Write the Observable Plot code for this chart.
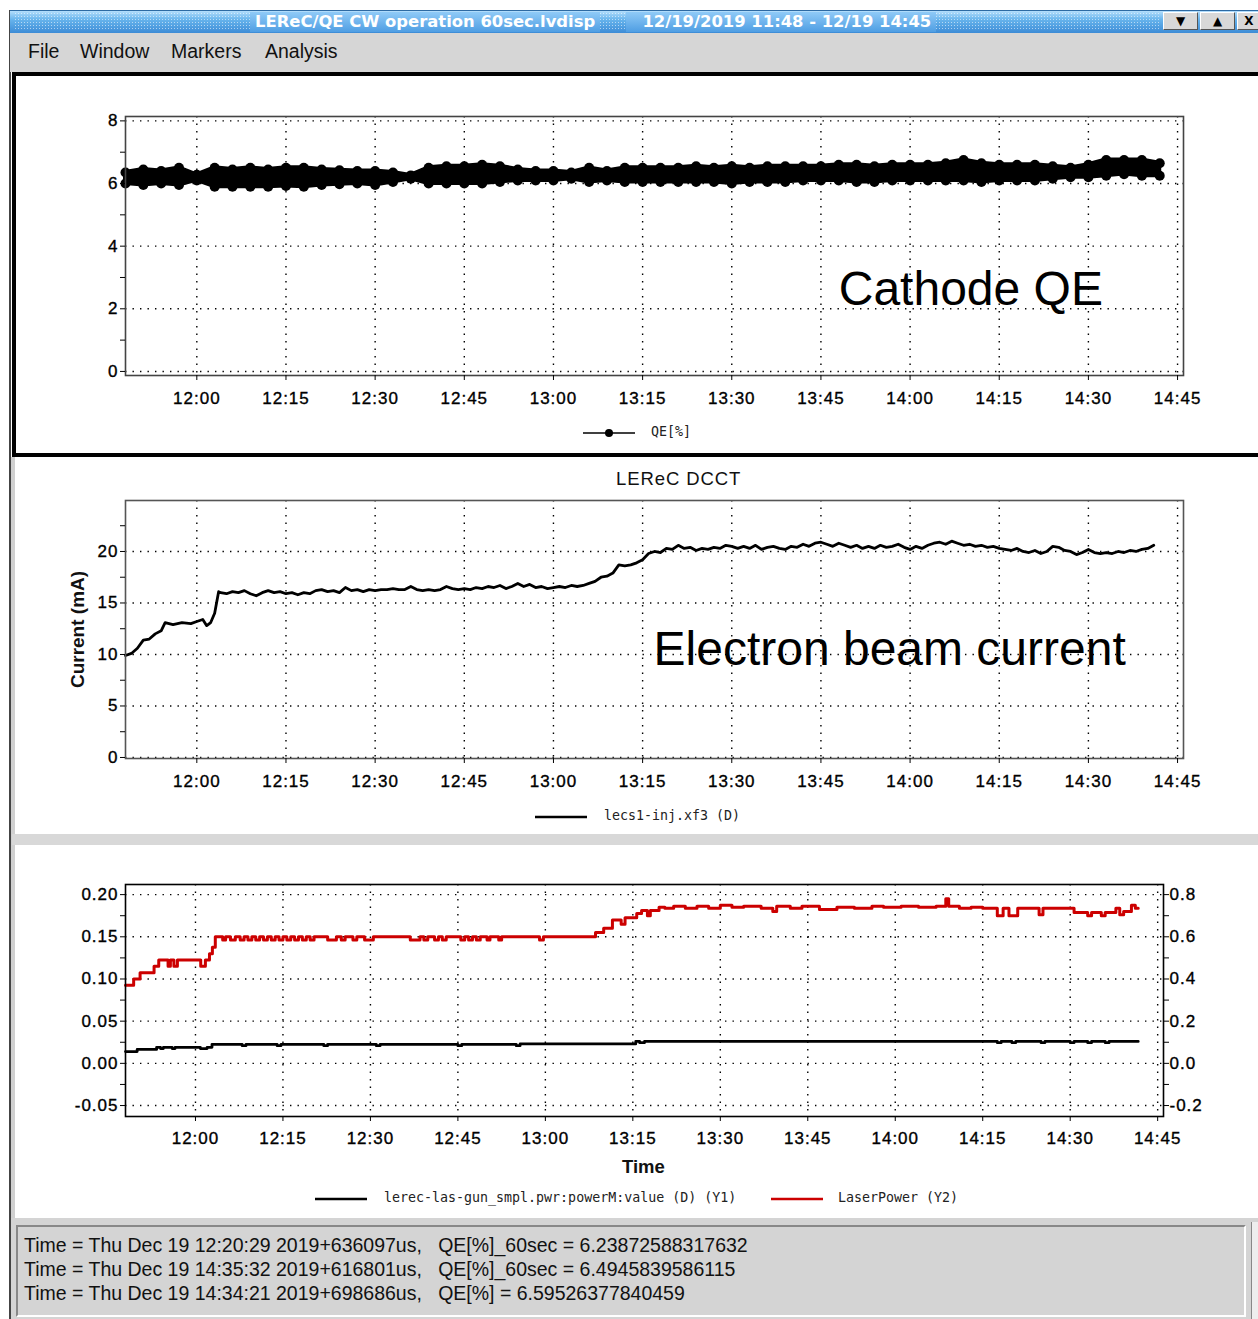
<!DOCTYPE html>
<html><head><meta charset="utf-8">
<script src="https://cdn.jsdelivr.net/npm/d3@7"></script>
<script src="https://cdn.jsdelivr.net/npm/@observablehq/plot@0.6"></script>
<style>
html,body{margin:0;padding:0;}
body{width:1258px;height:1319px;position:relative;overflow:hidden;background:#fff;font-family:"Liberation Sans",Arial,sans-serif;}
.a{position:absolute;}
#titlebar{left:10px;top:10px;width:1248px;height:23px;background:linear-gradient(#b4defc,#66b3ec 40%,#3d8cd6);border-top:1px solid #2d6aa3;box-sizing:border-box;}
.dots{top:12px;height:17px;background-image:radial-gradient(rgba(255,255,255,0.55) 0.7px,transparent 1px);background-size:3px 3px;}
.tt{top:12px;height:20px;line-height:20px;color:#fff;font:bold 16.4px "DejaVu Sans",sans-serif;white-space:pre;background:linear-gradient(#8fcaf7,#4f9ee3);padding:0 5px;}
.btn{top:12px;height:18px;background:#d8d8d8;border:1px solid #fff;border-right-color:#555;border-bottom-color:#555;box-sizing:border-box;font:bold 12px "DejaVu Sans";text-align:center;line-height:16px;color:#000;}
#menubar{left:10px;top:33px;width:1248px;height:39px;background:#d6d6d6;}
.menu{top:40px;font-size:19.5px;color:#111;}
#p1{left:12px;top:72px;width:1260px;height:385px;border:4px solid #000;box-sizing:border-box;background:#fff;}
#sep{left:12px;top:834px;width:1246px;height:11px;background:#d8d8d8;}
#leftline{left:9px;top:10px;width:2px;height:1309px;background:#444;}
#leftgrey{left:11px;top:457px;width:4px;height:762px;background:#d0d0d0;}
#status{left:11px;top:1218px;width:1247px;height:101px;background:#d4d4d4;}
#sbox{left:16px;top:1225px;width:1230px;height:92px;border:2px solid;border-color:#888 #fff #fff #888;box-sizing:border-box;}
#sbar{left:1251px;top:1222px;width:7px;height:97px;background:#eee;border-left:1px solid #888;}
.stxt{left:24px;font-size:19.5px;color:#111;white-space:pre;}
.plt{position:absolute;left:0;}
.plt g[aria-label$="tick label"] text{letter-spacing:1px;stroke:#000;stroke-width:0.35px;}
.leg{font:13.3px "DejaVu Sans Mono",monospace;color:#222;white-space:pre;}
.lab{font-size:18.5px;color:#111;white-space:pre;}
</style></head><body>

<div id="leftline" class="a"></div>
<div id="titlebar" class="a"></div>
<div class="a dots" style="left:14px;width:1146px;"></div>
<div class="a tt" style="left:250px;">LEReC/QE CW operation 60sec.lvdisp</div>
<div class="a tt" style="left:626px;">  12/19/2019 11:48 - 12/19 14:45</div>
<div class="a btn" style="left:1163px;width:35px;">▼</div>
<div class="a btn" style="left:1200px;width:35px;">▲</div>
<div class="a btn" style="left:1237px;width:24px;">X</div>
<div id="menubar" class="a"></div>
<div class="a menu" style="left:28px;">File</div>
<div class="a menu" style="left:80px;">Window</div>
<div class="a menu" style="left:171px;">Markers</div>
<div class="a menu" style="left:265px;">Analysis</div>
<div id="p1" class="a"></div>
<div id="leftgrey" class="a"></div>
<div id="sep" class="a"></div>
<div id="status" class="a"></div>
<div id="sbox" class="a"></div>
<div id="sbar" class="a"></div>

<div id="c1" class="plt" style="top:100px"></div>
<div id="c2" class="plt" style="top:488px"></div>
<div id="c3" class="plt" style="top:868px"></div>

<!-- legends / titles -->
<svg class="a" style="left:583px;top:427px" width="54" height="12"><line x1="0" y1="6" x2="52" y2="6" stroke="#000" stroke-width="1.5"/><circle cx="26" cy="6" r="4" fill="#000"/></svg>
<div class="a leg" style="left:651px;top:424px;">QE[%]</div>

<div class="a lab" style="left:616px;top:468px;letter-spacing:0.9px;">LEReC DCCT</div>
<svg class="a" style="left:535px;top:811px" width="54" height="12"><line x1="0" y1="6" x2="52" y2="6" stroke="#000" stroke-width="2.5"/></svg>
<div class="a leg" style="left:604px;top:808px;">lecs1-inj.xf3 (D)</div>

<div class="a lab" style="left:622px;top:1156px;font-weight:bold;">Time</div>
<svg class="a" style="left:315px;top:1193px" width="54" height="12"><line x1="0" y1="6" x2="52" y2="6" stroke="#000" stroke-width="2.5"/></svg>
<div class="a leg" style="left:384px;top:1190px;">lerec-las-gun_smpl.pwr:powerM:value (D) (Y1)</div>
<svg class="a" style="left:771px;top:1193px" width="54" height="12"><line x1="0" y1="6" x2="52" y2="6" stroke="#cc0000" stroke-width="2.5"/></svg>
<div class="a leg" style="left:838px;top:1190px;">LaserPower (Y2)</div>

<div class="a stxt" style="top:1234px;">Time = Thu Dec 19 12:20:29 2019+636097us,   QE[%]_60sec = 6.23872588317632</div>
<div class="a stxt" style="top:1258px;">Time = Thu Dec 19 14:35:32 2019+616801us,   QE[%]_60sec = 6.4945839586115</div>
<div class="a stxt" style="top:1282px;">Time = Thu Dec 19 14:34:21 2019+698686us,   QE[%] = 6.59526377840459</div>

<script>
// ---------- data ----------
const xDomainLabels = ["11:48:00", "14:46:00"];
const xTickLabels = ["12:00","12:15","12:30","12:45","13:00","13:15","13:30","13:45","14:00","14:15","14:30","14:45"];

// Chart 1: Cathode QE band (lower / upper extent of dense samples), %
const qeTimes = ["11:48","11:51","11:54","11:57","12:00","12:03","12:06","12:09","12:12","12:15","12:18","12:21","12:24","12:27","12:30","12:33","12:36","12:39","12:42","12:45","12:48","12:51","12:54","12:57","13:00","13:03","13:06","13:09","13:12","13:15","13:18","13:21","13:24","13:27","13:30","13:33","13:36","13:39","13:42","13:45","13:48","13:51","13:54","13:57","14:00","14:03","14:06","14:09","14:12","14:15","14:18","14:21","14:24","14:27","14:30","14:33","14:36","14:39","14:42"];
const qeLow  = [6.00,5.95,6.00,5.95,6.10,5.90,5.90,5.90,5.90,5.92,5.90,5.95,5.98,6.00,5.95,6.05,6.15,6.00,6.00,6.00,6.00,6.05,6.10,6.10,6.10,6.15,6.05,6.10,6.05,6.05,6.05,6.05,6.05,6.05,6.00,6.05,6.05,6.05,6.10,6.10,6.10,6.05,6.05,6.10,6.10,6.10,6.10,6.10,6.05,6.10,6.10,6.10,6.15,6.20,6.20,6.25,6.30,6.25,6.25];
const qeHigh = [6.35,6.45,6.40,6.50,6.28,6.50,6.45,6.50,6.45,6.50,6.50,6.45,6.42,6.40,6.40,6.35,6.26,6.50,6.55,6.55,6.60,6.55,6.45,6.40,6.40,6.35,6.50,6.40,6.50,6.50,6.50,6.50,6.55,6.50,6.55,6.50,6.55,6.55,6.55,6.55,6.60,6.60,6.55,6.60,6.60,6.60,6.65,6.75,6.65,6.60,6.60,6.60,6.55,6.50,6.60,6.75,6.75,6.75,6.65];
const qeYTicks = [0,2,4,6,8];
const qeYMinor = [1,3,5,7];
const qeNote = [{label:"Cathode QE", t:"13:48:00", v:2.6}];

// Chart 2: LEReC DCCT current (mA)
const dcctEarlyTimes = ["11:48:00","11:49:00","11:50:00","11:51:00","11:52:00","11:53:00","11:54:00","11:54:40","11:56:00","11:57:30","11:59:00","12:00:00","12:01:00","12:01:40","12:02:20","12:03:00","12:03:40"];
const dcctEarlyValues = [9.9,10.1,10.6,11.4,11.5,12.0,12.3,13.1,12.9,13.1,13.0,13.2,13.4,12.8,13.1,14.0,16.1];
// one reading per minute from 12:04 to 14:41
const dcctMinuteStart = "12:04:00";
const dcctMinuteValues = [16.0,15.9,16.1,16.0,16.2,15.9,15.7,16.0,16.2,16.0,16.1,15.9,16.0,15.8,16.0,15.9,16.2,16.3,16.1,16.2,16.0,16.5,16.2,16.3,16.1,16.3,16.2,16.3,16.3,16.4,16.3,16.3,16.6,16.3,16.2,16.3,16.2,16.3,16.6,16.4,16.3,16.4,16.3,16.5,16.4,16.6,16.5,16.7,16.4,16.6,16.9,16.6,16.8,16.5,16.6,16.4,16.5,16.6,16.5,16.7,16.6,16.7,16.9,17.1,17.5,17.6,17.9,18.7,18.6,18.7,18.9,19.2,19.8,20.0,19.9,20.3,20.2,20.6,20.3,20.4,20.1,20.3,20.2,20.4,20.3,20.6,20.5,20.3,20.5,20.3,20.6,20.2,20.4,20.5,20.3,20.2,20.5,20.4,20.7,20.5,20.8,20.9,20.7,20.5,20.8,20.6,20.4,20.6,20.3,20.5,20.3,20.6,20.4,20.5,20.7,20.4,20.2,20.5,20.3,20.6,20.8,20.9,20.7,21.0,20.8,20.6,20.7,20.5,20.6,20.4,20.5,20.3,20.2,20.1,20.3,20.0,19.9,20.1,19.8,20.0,20.5,20.4,20.1,20.0,19.7,19.9,20.2,19.9,19.8,19.9,19.8,20.0,19.9,20.1,20.0,20.2,20.3,20.6];
const dcctYTicks = [0,5,10,15,20];
const dcctYMinor = [2.5,7.5,12.5,17.5,22.5];
const dcctNote = [{label:"Electron beam current", t:"13:16:50", v:10.5}];

// Chart 3: gun power (Y1) and LaserPower (Y2)
const laserTimes = ["11:48:00","11:49:24","11:50:30","11:52:54","11:53:42","11:55:18","11:55:42","11:56:18","11:56:54","12:00:54","12:01:42","12:02:24","12:02:54","12:03:24","12:04:40","12:05:10","12:06:00","12:06:50","12:07:40","12:08:20","12:09:00","12:09:40","12:10:20","12:11:00","12:11:40","12:12:20","12:13:00","12:13:40","12:14:20","12:15:00","12:15:40","12:16:20","12:17:00","12:17:40","12:18:20","12:19:00","12:19:40","12:20:20","12:22:40","12:24:10","12:25:00","12:25:40","12:27:00","12:27:40","12:29:00","12:30:30","12:36:50","12:38:30","12:39:10","12:39:50","12:41:00","12:41:40","12:42:20","12:43:00","12:45:30","12:46:10","12:46:50","12:47:30","12:48:10","12:48:50","12:50:00","12:50:30","12:52:00","12:52:30","12:59:00","12:59:40","13:08:36","13:10:00","13:11:30","13:13:00","13:13:40","13:15:40","13:16:30","13:17:30","13:18:00","13:19:30","13:20:30","13:22:00","13:24:00","13:26:00","13:28:00","13:30:00","13:32:00","13:34:00","13:37:00","13:39:00","13:39:40","13:42:00","13:44:00","13:47:00","13:50:00","13:53:00","13:56:00","13:58:00","14:01:00","14:04:00","14:07:00","14:08:40","14:09:10","14:11:00","14:13:00","14:15:00","14:17:30","14:18:30","14:19:30","14:21:00","14:24:40","14:25:20","14:28:00","14:30:40","14:33:00","14:33:40","14:35:20","14:36:00","14:37:50","14:38:30","14:39:10","14:40:30","14:41:10","14:41:40"];
const laserValues = [0.37,0.40,0.43,0.46,0.49,0.46,0.49,0.46,0.49,0.46,0.49,0.52,0.55,0.60,0.585,0.60,0.585,0.60,0.585,0.60,0.585,0.60,0.585,0.60,0.585,0.60,0.585,0.60,0.585,0.60,0.585,0.60,0.585,0.60,0.585,0.60,0.585,0.60,0.585,0.60,0.585,0.60,0.585,0.60,0.585,0.60,0.585,0.60,0.585,0.60,0.585,0.60,0.585,0.60,0.585,0.60,0.585,0.60,0.585,0.60,0.585,0.60,0.585,0.60,0.585,0.60,0.62,0.64,0.68,0.66,0.69,0.71,0.725,0.70,0.725,0.74,0.735,0.745,0.735,0.745,0.735,0.75,0.74,0.745,0.735,0.72,0.745,0.735,0.745,0.73,0.74,0.735,0.745,0.74,0.745,0.74,0.745,0.78,0.745,0.735,0.74,0.735,0.70,0.735,0.70,0.735,0.705,0.735,0.735,0.715,0.70,0.715,0.70,0.715,0.735,0.705,0.72,0.75,0.735,0.735];
const gunTimes = ["11:48:00","11:50:00","11:53:20","11:54:00","11:54:30","11:56:00","11:56:30","11:58:00","12:00:50","12:02:00","12:02:50","12:08:00","12:08:40","12:14:00","12:14:40","12:22:00","12:22:40","12:31:00","12:31:40","12:45:00","12:45:40","12:55:00","12:55:40","13:15:30","13:16:10","13:17:00","14:17:30","14:18:10","14:20:00","14:20:40","14:25:00","14:25:40","14:30:00","14:30:40","14:33:00","14:33:40","14:36:00","14:36:40","14:41:40"];
const gunValues = [0.014,0.0165,0.019,0.0175,0.019,0.0175,0.019,0.019,0.0175,0.019,0.0225,0.021,0.0225,0.021,0.0225,0.021,0.0225,0.021,0.0225,0.021,0.0225,0.021,0.023,0.026,0.0245,0.026,0.0245,0.026,0.0245,0.026,0.0245,0.026,0.0245,0.026,0.0245,0.026,0.0245,0.026,0.026];
const y1Ticks = [-0.05,0,0.05,0.10,0.15,0.20];
const y1Minor = [-0.025,0.025,0.075,0.125,0.175];
const y2Ticks = [-0.2,0,0.2,0.4,0.6,0.8];
const y2Minor = [-0.1,0.1,0.3,0.5,0.7];

// ---------- build ----------
const parseT = d3.utcParse("%H:%M:%S");
const T = s => parseT(s.length === 5 ? s + ":00" : s);
const xDomain = xDomainLabels.map(T);
const xTicks = xTickLabels.map(T);
const fmtX = d3.utcFormat("%H:%M");
const font = '"Liberation Sans", Arial, sans-serif';
const dotted = {stroke:"#000", strokeOpacity:1, strokeWidth:1.4, strokeDasharray:"1.4,6.1"};
const baseStyle = {fontFamily:font, fontSize:"17px", color:"#000", background:"none", overflow:"visible"};

// Chart 1
const qe = qeTimes.map((t,i) => ({t:T(t), lo:qeLow[i], hi:qeHigh[i], mid:(qeLow[i]+qeHigh[i])/2}));
document.getElementById("c1").append(Plot.plot({
  width:1258, height:315, marginLeft:125, marginRight:75, marginTop:16, marginBottom:40,
  style:baseStyle,
  x:{type:"utc", domain:xDomain},
  y:{domain:[-0.13, 8.14]},
  marks:[
    Plot.gridX(xTicks, dotted),
    Plot.gridY(qeYTicks, dotted),
    Plot.areaY(qe, {x:"t", y1:"lo", y2:"hi", fill:"#000", stroke:"#000", strokeWidth:4, strokeLinejoin:"round"}),
    Plot.dot(qe, {x:"t", y:"lo", r:5, fill:"#000"}),
    Plot.dot(qe, {x:"t", y:"hi", r:5, fill:"#000"}),
    Plot.frame({stroke:"#444", strokeWidth:1.6}),
    Plot.axisX(xTicks, {label:null, tickSize:5, tickPadding:11, tickFormat:fmtX}),
    Plot.axisY(qeYTicks, {label:null, tickSize:5, tickPadding:2}),
    Plot.axisY(qeYMinor, {label:null, tickSize:5, tickFormat:() => ""}),
    Plot.text(qeNote, {x:d => T(d.t), y:"v", text:"label", textAnchor:"start", fontSize:48, fill:"#000"})
  ]
}));

// Chart 2
const dcctStart = T(dcctMinuteStart);
const dcct = dcctEarlyTimes.map((t,i) => ({t:T(t), v:dcctEarlyValues[i]}))
  .concat(dcctMinuteValues.map((v,i) => ({t:d3.utcMinute.offset(dcctStart, i), v})));
document.getElementById("c2").append(Plot.plot({
  width:1258, height:310, marginLeft:125, marginRight:75, marginTop:12, marginBottom:40,
  style:baseStyle,
  x:{type:"utc", domain:xDomain},
  y:{domain:[-0.1, 24.95]},
  marks:[
    Plot.gridX(xTicks, dotted),
    Plot.gridY(dcctYTicks, dotted),
    Plot.line(dcct, {x:"t", y:"v", stroke:"#000", strokeWidth:2.8, strokeLinejoin:"round"}),
    Plot.frame({stroke:"#555", strokeWidth:1.6}),
    Plot.axisX(xTicks, {label:null, tickSize:5, tickPadding:11, tickFormat:fmtX}),
    Plot.axisY(dcctYTicks, {label:null, tickSize:5, tickPadding:2}),
    Plot.axisY(dcctYMinor, {label:null, tickSize:5, tickFormat:() => ""}),
    Plot.text(["Current (mA)"], {frameAnchor:"left", dx:-48, rotate:-90, textAnchor:"middle", fontSize:19, fontWeight:"bold", fill:"#111"}),
    Plot.text(dcctNote, {x:d => T(d.t), y:"v", text:"label", textAnchor:"start", fontSize:48, fill:"#000"})
  ]
}));

// Chart 3
const laser = laserTimes.map((t,i) => ({t:T(t), v:laserValues[i]}));
const gun = gunTimes.map((t,i) => ({t:T(t), v:gunValues[i]}));
const y2ToY1 = v => v / 4;
document.getElementById("c3").append(Plot.plot({
  width:1258, height:282, marginLeft:125, marginRight:95, marginTop:16, marginBottom:34,
  style:baseStyle,
  x:{type:"utc", domain:xDomain},
  y:{domain:[-0.063, 0.212]},
  marks:[
    Plot.gridX(xTicks, dotted),
    Plot.gridY(y1Ticks, dotted),
    Plot.line(gun, {x:"t", y:"v", curve:"step-after", stroke:"#000", strokeWidth:2.8}),
    Plot.line(laser, {x:"t", y:d => y2ToY1(d.v), curve:"step-after", stroke:"#cc0000", strokeWidth:3}),
    Plot.frame({stroke:"#000", strokeWidth:1.6}),
    Plot.axisX(xTicks, {label:null, tickSize:5, tickPadding:10, tickFormat:fmtX}),
    Plot.axisY(y1Ticks, {label:null, anchor:"left", tickSize:5, tickPadding:2, tickFormat:v => v.toFixed(2)}),
    Plot.axisY(y1Minor, {label:null, anchor:"left", tickSize:5, tickFormat:() => ""}),
    Plot.axisY(y2Ticks.map(y2ToY1), {label:null, anchor:"right", tickSize:5, tickPadding:1, tickFormat:v => (v*4).toFixed(1)}),
    Plot.axisY(y2Minor.map(y2ToY1), {label:null, anchor:"right", tickSize:5, tickFormat:() => ""})
  ]
}));
</script>
</body></html>
